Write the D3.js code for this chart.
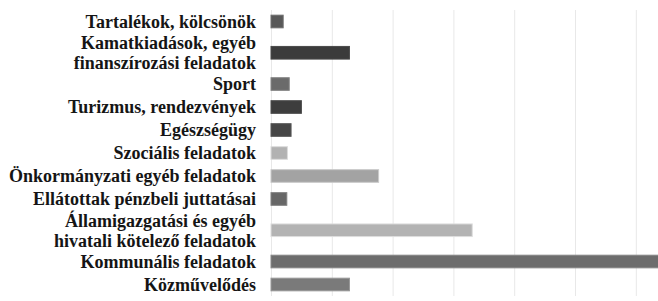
<!DOCTYPE html>
<html>
<head>
<meta charset="utf-8">
<script src="https://cdn.jsdelivr.net/npm/d3@7"></script>
<style>
  body { margin: 0; background: #fff; }
</style>
</head>
<body>
<div id="content"></div>
<script>
// categories top to bottom ("\n" = second line)
var categories = [
  "Tartalékok, kölcsönök",
  "Kamatkiadások, egyéb\nfinanszírozási feladatok",
  "Sport",
  "Turizmus, rendezvények",
  "Egészségügy",
  "Szociális feladatok",
  "Önkormányzati egyéb feladatok",
  "Ellátottak pénzbeli juttatásai",
  "Államigazgatási és egyéb\nhivatali kötelező feladatok",
  "Kommunális feladatok",
  "Közművelődés"
];
// values, in gridline units
var values = [0.20, 1.29, 0.30, 0.50, 0.33, 0.27, 1.77, 0.26, 3.31, 6.5, 1.29];
var barColors = ["#585858", "#3b3b3b", "#6b6b6b", "#3d3d3d", "#464646", "#b2b2b2",
                 "#a3a3a3", "#676767", "#b3b3b3", "#6d6d6d", "#7a7a7a"];
var gridTicks = [0, 1, 2, 3, 4, 5, 6, 7];

var width = 658, height = 301;

var svg = d3.select('#content')
  .append('svg')
  .attr('width', width).attr('height', height);

// rows with two-line labels get more room
var weights = categories.map(function(c){ return c.indexOf("\n") >= 0 ? 1.72 : 1; });
var starts = [0];
weights.forEach(function(w, i){ starts.push(starts[i] + w); });
var total = starts[starts.length - 1];

var y = d3.scaleLinear().domain([0, total]).range([10, 296]);
var x = d3.scaleLinear().domain([0, 7]).range([271, 696.6]);

var unit = y(1) - y(0);
var barH = unit * 0.55;

// gridlines
svg.append("g")
  .selectAll("line")
  .data(gridTicks)
  .enter().append("line")
  .attr("x1", function(d){ return x(d) + 0.5; })
  .attr("x2", function(d){ return x(d) + 0.5; })
  .attr("y1", y(0))
  .attr("y2", y(total))
  .attr("stroke", "#e8e8e8")
  .attr("stroke-width", 1);

var rows = categories.map(function(c, i){
  return { name: c, value: values[i], color: barColors[i], center: y(starts[i] + weights[i] / 2) };
});

svg.append("g")
  .selectAll("rect")
  .data(rows)
  .enter().append("rect")
  .attr("x", x(0))
  .attr("y", function(d){ return d.center - barH / 2; })
  .attr("width", function(d){ return x(d.value) - x(0); })
  .attr("height", barH)
  .attr("fill", function(d){ return d.color; })
  .attr("stroke", function(d){ return d3.color(d.color).brighter(0.6); })
  .attr("stroke-width", 1);

var lineGap = 20;
var label = svg.append("g")
  .attr("font-family", "'Liberation Serif', 'Times New Roman', Times, serif")
  .attr("font-weight", "bold")
  .attr("font-size", 18)
  .attr("fill", "#151515")
  .selectAll("text")
  .data(rows)
  .enter().append("text")
  .attr("text-anchor", "end")
  .attr("x", 256);

label.each(function(d){
  var lines = d.name.split("\n");
  var t = d3.select(this);
  lines.forEach(function(l, j){
    t.append("tspan")
      .attr("x", 256)
      .attr("y", d.center + (j - (lines.length - 1) / 2) * lineGap)
      .attr("dy", "0.35em")
      .text(l);
  });
});
</script>
</body>
</html>
